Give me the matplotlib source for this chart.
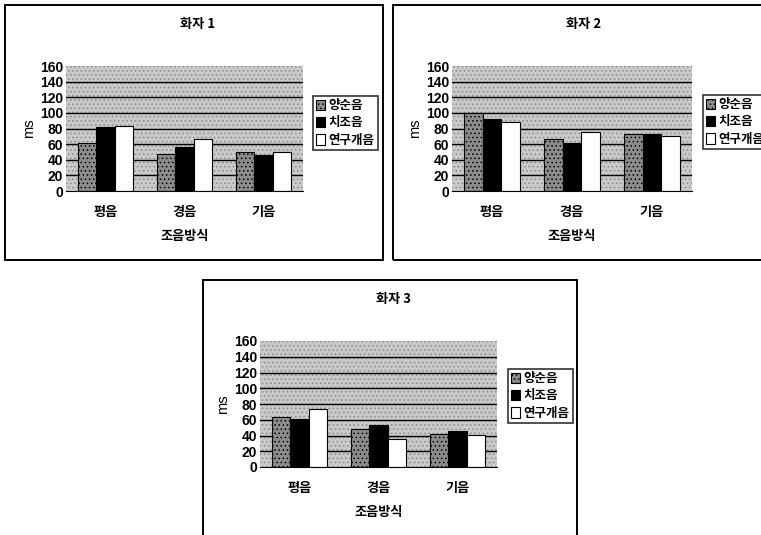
import numpy as np
import matplotlib.pyplot as plt
from matplotlib.patches import Rectangle

plt.rcParams['font.family'] = ['Noto Sans CJK KR', 'DejaVu Sans']
plt.rcParams['hatch.linewidth'] = 0.6

categories = ['평음', '경음', '기음']
series_names = ['양순음', '치조음', '연구개음']
speaker_titles = ['화자 1', '화자 2', '화자 3']

# ms values, one list per series (양순음, 치조음, 연구개음) for each speaker
speaker1 = [[61, 48, 50], [82, 56, 46], [83, 67, 50]]
speaker2 = [[100, 67, 73], [92, 61, 73], [88, 76, 71]]
speaker3 = [[64, 48, 42], [61, 53, 46], [74, 36, 41]]
yticks = [0, 20, 40, 60, 80, 100, 120, 140, 160]

W, H = 761, 535
fig = plt.figure(figsize=(W / 100, H / 100), dpi=100)
fig.patch.set_facecolor('white')


def px_rect(x0, y0, x1, y1):
    # pixel box (top-left origin) -> figure fraction [left, bottom, width, height]
    return [x0 / W, 1 - y1 / H, (x1 - x0) / W, (y1 - y0) / H]


def frame(x0, y0, x1, y1):
    l, b, w, h = px_rect(x0, y0, x1, y1)
    fig.patches.append(Rectangle((l, b), w, h, transform=fig.transFigure,
                                 fill=False, edgecolor='black', linewidth=1.4))


def panel(data, title, plot_box, frame_box, legend_xy):
    frame(*frame_box)
    ax = fig.add_axes(px_rect(*plot_box))
    ax.set_facecolor('#bdbdbd')
    ax.add_patch(Rectangle((0, 0), 1, 1, transform=ax.transAxes, facecolor='#c9c9c9',
                           edgecolor='#8a8a8a', hatch='....', linewidth=0, zorder=0))
    for v in yticks[1:-1]:
        ax.axhline(v, color='black', linewidth=1.0, zorder=1)

    x = np.arange(len(categories))
    bw = 0.233
    styles = [dict(facecolor='#8c8c8c', hatch='....', edgecolor='black'),
              dict(facecolor='black', edgecolor='black'),
              dict(facecolor='white', edgecolor='black')]
    handles = []
    for i, (vals, st) in enumerate(zip(data, styles)):
        b = ax.bar(x + (i - 1) * bw, vals, width=bw, linewidth=0.8, zorder=2,
                   label=series_names[i], **st)
        handles.append(b)

    ax.set_xlim(-0.5, 2.5)
    ax.set_ylim(0, 160)
    ax.set_yticks(yticks)
    ax.set_yticklabels([str(v) for v in yticks], fontsize=10, fontweight='bold',
                       family='Liberation Sans')
    ax.set_xticks(x)
    ax.set_xticklabels(categories, fontsize=9.5, fontweight='bold')
    ax.tick_params(axis='both', length=0, pad=2)
    ax.tick_params(axis='x', pad=10)
    for s in ['top', 'right', 'left']:
        ax.spines[s].set_visible(False)
    ax.spines['bottom'].set_linewidth(0.8)
    ax.set_ylabel('ms', fontsize=10.5, labelpad=3, family='Liberation Sans')
    ax.set_xlabel('조음방식', fontsize=9.5, fontweight='bold', labelpad=7)

    fx0, fy0, fx1, fy1 = frame_box
    fig.text((fx0 + fx1) / 2 / W + 0.005, 1 - (fy0 + 19) / H, title, ha='center',
             va='center', fontsize=9.5, fontweight='bold')

    lx, ly = legend_xy
    leg = fig.legend(handles=handles, loc='upper left',
                     bbox_to_anchor=(lx / W, 1 - ly / H), bbox_transform=fig.transFigure,
                     fontsize=9, frameon=True, fancybox=False, handlelength=0.7,
                     handleheight=0.9, handletextpad=0.3, labelspacing=0.35,
                     borderpad=0.25, borderaxespad=0)
    leg.get_frame().set_edgecolor('black')
    leg.get_frame().set_linewidth(1.2)
    for t in leg.get_texts():
        t.set_fontweight('bold')


panel(speaker1, speaker_titles[0], (66, 66, 303, 191), (5, 5, 383, 260), (313, 96))
panel(speaker2, speaker_titles[1], (452, 66, 692, 191), (393, 5, 766, 260), (703, 95))
panel(speaker3, speaker_titles[2], (260, 341, 497, 467), (203, 280, 577, 540), (508, 369))

fig.savefig('out.png', dpi=100)
